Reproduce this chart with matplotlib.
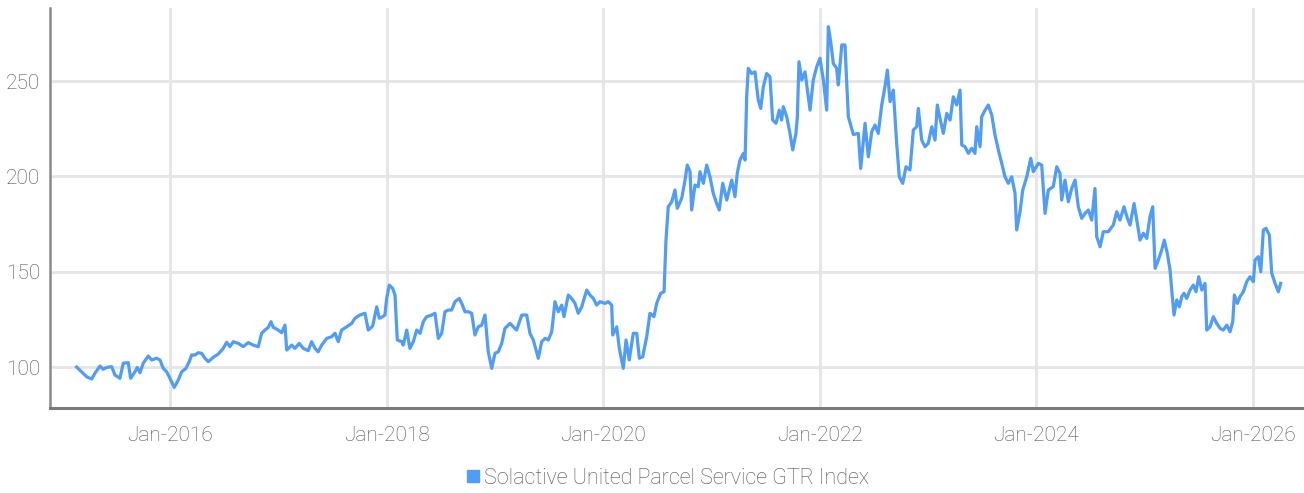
import numpy as np
import pandas as pd
import matplotlib.pyplot as plt
import matplotlib.dates as mdates
from matplotlib.lines import Line2D

# decimal years and index levels
years = [
    2015.138, 2015.199, 2015.231, 2015.277, 2015.307, 2015.354, 2015.384, 2015.416, 2015.462, 2015.492,
    2015.538, 2015.569, 2015.615, 2015.637, 2015.677, 2015.698, 2015.723, 2015.753, 2015.800, 2015.831,
    2015.877, 2015.908, 2015.938, 2015.970, 2016.000, 2016.040, 2016.077, 2016.108, 2016.148, 2016.178,
    2016.200, 2016.231, 2016.261, 2016.293, 2016.323, 2016.354, 2016.400, 2016.446, 2016.492, 2016.524,
    2016.554, 2016.585, 2016.631, 2016.677, 2016.723, 2016.769, 2016.815, 2016.847, 2016.877, 2016.908,
    2016.933, 2016.954, 2017.000, 2017.031, 2017.062, 2017.078, 2017.124, 2017.154, 2017.194, 2017.231,
    2017.277, 2017.308, 2017.339, 2017.369, 2017.401, 2017.447, 2017.493, 2017.524, 2017.554, 2017.585,
    2017.632, 2017.678, 2017.708, 2017.754, 2017.801, 2017.831, 2017.872, 2017.909, 2017.933, 2017.964,
    2017.985, 2018.001, 2018.025, 2018.056, 2018.078, 2018.099, 2018.140, 2018.154, 2018.186, 2018.216,
    2018.247, 2018.278, 2018.309, 2018.339, 2018.370, 2018.417, 2018.447, 2018.478, 2018.509, 2018.539,
    2018.570, 2018.601, 2018.632, 2018.671, 2018.694, 2018.724, 2018.755, 2018.786, 2018.816, 2018.847,
    2018.878, 2018.909, 2018.939, 2018.971, 2019.001, 2019.032, 2019.063, 2019.093, 2019.140, 2019.170,
    2019.201, 2019.248, 2019.294, 2019.324, 2019.355, 2019.401, 2019.432, 2019.463, 2019.493, 2019.525,
    2019.555, 2019.586, 2019.617, 2019.638, 2019.678, 2019.709, 2019.740, 2019.770, 2019.802, 2019.848,
    2019.878, 2019.909, 2019.940, 2019.971, 2020.017, 2020.047, 2020.079, 2020.088, 2020.125, 2020.149,
    2020.186, 2020.211, 2020.241, 2020.278, 2020.310, 2020.334, 2020.365, 2020.402, 2020.432, 2020.469,
    2020.494, 2020.531, 2020.562, 2020.580, 2020.601, 2020.633, 2020.663, 2020.684, 2020.725, 2020.756,
    2020.777, 2020.802, 2020.817, 2020.848, 2020.878, 2020.894, 2020.925, 2020.956, 2020.986, 2021.017,
    2021.048, 2021.072, 2021.104, 2021.141, 2021.187, 2021.217, 2021.238, 2021.263, 2021.294, 2021.310,
    2021.325, 2021.340, 2021.371, 2021.402, 2021.432, 2021.455, 2021.479, 2021.510, 2021.540, 2021.565,
    2021.596, 2021.626, 2021.648, 2021.663, 2021.695, 2021.725, 2021.750, 2021.780, 2021.793, 2021.808,
    2021.833, 2021.864, 2021.910, 2021.940, 2021.972, 2022.002, 2022.033, 2022.064, 2022.079, 2022.101,
    2022.125, 2022.156, 2022.171, 2022.203, 2022.233, 2022.249, 2022.264, 2022.310, 2022.356, 2022.378,
    2022.418, 2022.448, 2022.480, 2022.510, 2022.540, 2022.572, 2022.602, 2022.624, 2022.649, 2022.679,
    2022.710, 2022.734, 2022.766, 2022.796, 2022.833, 2022.864, 2022.895, 2022.910, 2022.941, 2022.972,
    2023.002, 2023.034, 2023.064, 2023.085, 2023.110, 2023.141, 2023.172, 2023.203, 2023.233, 2023.264,
    2023.295, 2023.311, 2023.341, 2023.372, 2023.403, 2023.433, 2023.449, 2023.480, 2023.495, 2023.526,
    2023.556, 2023.588, 2023.618, 2023.649, 2023.680, 2023.710, 2023.741, 2023.772, 2023.803, 2023.818,
    2023.849, 2023.874, 2023.911, 2023.948, 2023.972, 2024.018, 2024.049, 2024.080, 2024.110, 2024.156,
    2024.188, 2024.218, 2024.234, 2024.264, 2024.295, 2024.326, 2024.357, 2024.387, 2024.419, 2024.449,
    2024.480, 2024.511, 2024.541, 2024.557, 2024.588, 2024.618, 2024.664, 2024.710, 2024.742, 2024.772,
    2024.809, 2024.840, 2024.865, 2024.902, 2024.932, 2024.957, 2024.988, 2025.019, 2025.049, 2025.074,
    2025.096, 2025.126, 2025.157, 2025.181, 2025.209, 2025.234, 2025.255, 2025.271, 2025.296, 2025.320,
    2025.342, 2025.363, 2025.388, 2025.419, 2025.449, 2025.474, 2025.499, 2025.527, 2025.557, 2025.573,
    2025.603, 2025.634, 2025.665, 2025.696, 2025.726, 2025.758, 2025.788, 2025.813, 2025.828, 2025.856,
    2025.880, 2025.911, 2025.942, 2025.973, 2026.003, 2026.019, 2026.049, 2026.072, 2026.096, 2026.120,
    2026.151, 2026.173, 2026.204, 2026.234, 2026.256,
]
values = [
    100.0, 96.7, 94.9, 93.7, 96.7, 100.5, 98.8, 99.8, 100.2, 95.8,
    94.1, 102.0, 102.3, 94.1, 97.5, 99.8, 97.0, 102.0, 105.8, 103.7,
    104.6, 103.7, 99.3, 97.5, 94.1, 89.3, 93.2, 97.5, 99.3, 102.8,
    106.3, 106.3, 107.5, 107.2, 104.6, 102.8, 105.1, 106.8, 109.8, 113.0,
    110.7, 113.3, 112.4, 110.7, 112.8, 111.5, 110.7, 117.7, 119.4, 120.8,
    123.8, 120.8, 119.4, 118.0, 122.0, 108.9, 111.5, 109.8, 112.4, 109.8,
    108.6, 113.3, 109.8, 108.0, 111.5, 115.0, 115.9, 117.7, 113.3, 119.4,
    121.1, 122.9, 125.6, 127.3, 128.2, 119.4, 121.5, 131.6, 125.6, 126.4,
    127.3, 136.0, 143.0, 141.3, 137.8, 114.2, 113.3, 111.5, 119.4, 109.8,
    113.3, 119.4, 117.7, 123.8, 126.4, 127.3, 128.2, 115.0, 117.7, 129.0,
    129.9, 129.9, 134.3, 136.0, 133.4, 129.0, 129.0, 128.2, 116.8, 121.1,
    122.0, 127.3, 108.0, 99.3, 107.2, 108.0, 112.4, 120.3, 122.9, 121.1,
    119.4, 127.3, 127.3, 117.7, 114.2, 104.6, 113.3, 115.0, 114.2, 118.5,
    134.3, 129.0, 132.5, 126.4, 137.8, 136.0, 133.4, 128.2, 131.6, 140.4,
    137.8, 136.0, 132.5, 134.3, 133.4, 134.3, 132.5, 116.8, 121.1, 109.8,
    99.3, 114.2, 103.7, 117.7, 117.7, 104.6, 105.4, 115.9, 128.2, 126.4,
    133.4, 138.7, 139.5, 166.6, 184.1, 186.7, 192.9, 183.3, 188.5, 198.1,
    206.0, 202.5, 182.4, 195.5, 194.6, 202.5, 196.4, 206.0, 199.8, 191.1,
    185.8, 182.4, 196.4, 187.6, 198.1, 189.4, 201.6, 208.6, 212.1, 208.6,
    241.8, 256.7, 254.0, 254.9, 240.1, 235.7, 247.1, 254.0, 252.3, 229.6,
    227.9, 234.8, 229.6, 236.6, 231.3, 222.6, 213.9, 222.6, 231.3, 260.2,
    250.6, 254.9, 234.8, 250.6, 257.6, 262.0, 250.6, 234.8, 278.6, 270.7,
    259.3, 256.7, 248.0, 269.0, 269.0, 248.8, 231.3, 222.0, 222.6, 204.2,
    227.9, 210.3, 223.5, 227.0, 222.6, 237.5, 247.1, 255.8, 239.2, 245.3,
    217.4, 199.8, 196.4, 205.1, 203.4, 224.4, 226.1, 235.7, 219.1, 215.6,
    217.4, 226.1, 219.1, 237.5, 230.5, 222.6, 233.1, 229.6, 241.8, 237.5,
    245.3, 216.5, 215.6, 212.1, 214.8, 212.1, 226.1, 215.6, 231.3, 234.8,
    237.5, 232.2, 221.7, 213.9, 206.9, 199.8, 196.4, 199.8, 191.1, 171.9,
    181.5, 192.9, 199.8, 209.5, 202.5, 206.9, 206.0, 180.6, 192.9, 194.6,
    205.1, 201.6, 187.6, 198.1, 186.7, 193.7, 198.1, 184.1, 178.0, 180.6,
    182.4, 177.1, 193.7, 168.4, 163.1, 171.0, 171.0, 174.5, 181.5, 177.1,
    184.1, 178.0, 174.5, 185.8, 175.4, 166.6, 170.2, 167.5, 178.9, 184.1,
    151.8, 156.1, 161.4, 166.6, 159.6, 150.9, 136.9, 127.3, 135.2, 131.6,
    136.9, 138.7, 136.0, 140.4, 143.0, 139.5, 147.4, 140.4, 143.9, 119.4,
    121.1, 126.4, 122.9, 120.3, 119.4, 122.0, 118.5, 123.8, 137.8, 133.4,
    136.9, 139.5, 144.8, 147.4, 144.8, 156.1, 157.9, 150.0, 171.9, 172.8,
    169.3, 149.2, 143.9, 139.5, 143.9,
]

series_name = "Solactive United Parcel Service GTR Index"
y_ticks = [100, 150, 200, 250]
x_tick_years = [2016, 2018, 2020, 2022, 2024, 2026]


def to_date(yr):
    yr = np.asarray(yr, dtype=float)
    return pd.Timestamp("2016-01-01") + pd.to_timedelta((yr - 2016) * 365.25, unit="D")


dates = to_date(years)

plt.rcParams["font.family"] = ["Roboto", "DejaVu Sans"]

fig = plt.figure(figsize=(13.04, 4.93), dpi=100)
ax = fig.add_axes([0.0383, 0.1724, 0.9617, 0.8114])

line_color = "#4f9cf9"
text_color = "#505050"
ax.plot(dates, values, color=line_color, lw=2.3, solid_joinstyle="round", zorder=3)

ax.set_xlim(to_date(2014.892), to_date(2026.471))
ax.set_ylim(78.5, 288.4)

ax.set_yticks(y_ticks)
ax.set_xticks([pd.Timestamp(f"{y}-01-01") for y in x_tick_years])
ax.xaxis.set_major_formatter(mdates.DateFormatter("%b-%Y"))

ax.grid(True, color="#e5e5e5", lw=2)
ax.set_axisbelow(True)
ax.tick_params(length=0, labelsize=15, labelcolor=text_color, pad=7)
ax.tick_params(axis="x", pad=13)
for lab in ax.get_xticklabels() + ax.get_yticklabels():
    lab.set_fontweight("light")

for side in ["top", "right"]:
    ax.spines[side].set_visible(False)
ax.spines["left"].set_color("#8a8a8a")
ax.spines["left"].set_linewidth(1.8)
ax.spines["bottom"].set_color("#7a7a7a")
ax.spines["bottom"].set_linewidth(2.2)

handle = Line2D([], [], marker="s", color=line_color, lw=0, markersize=8)
fig.legend([handle], [series_name], loc="center", bbox_to_anchor=(0.512, 0.03),
           frameon=False, handlelength=0.6, handletextpad=0.2,
           prop={"size": 15.5, "weight": "light"}, labelcolor=text_color)

fig.savefig("out.png", dpi=100)
